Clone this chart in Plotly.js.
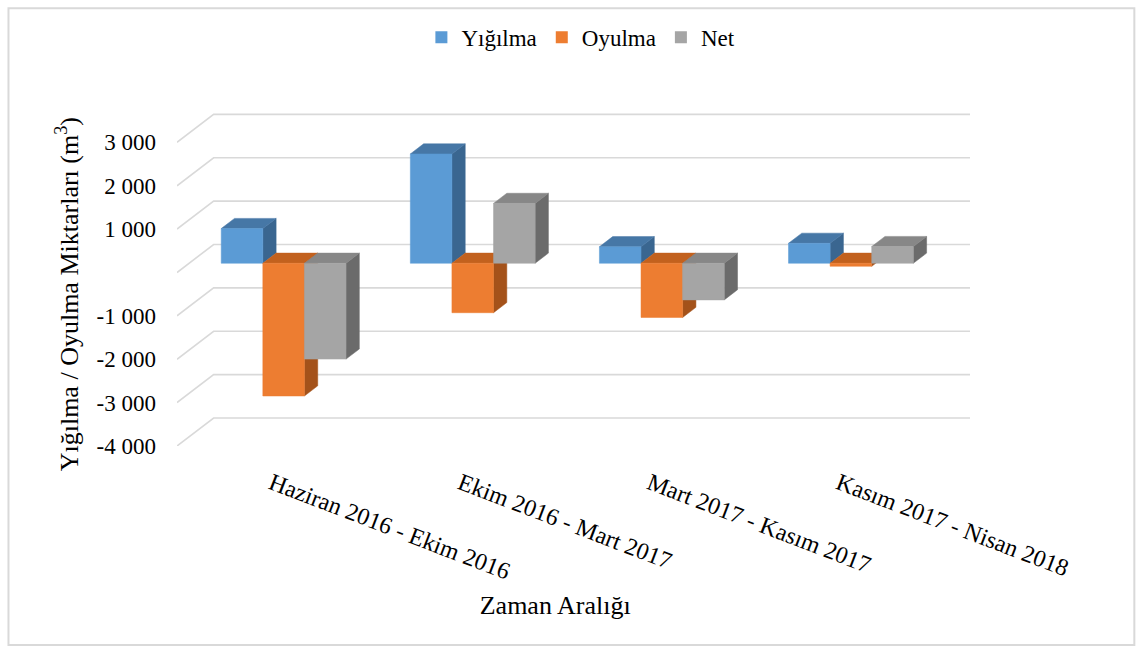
<!DOCTYPE html>
<html>
<head>
<meta charset="utf-8">
<script src="https://cdn.plot.ly/plotly-3.0.1.min.js"></script>
<style>html,body{margin:0;padding:0;background:#fff;}#chart{width:1143px;height:647px;}</style>
</head>
<body>
<div id="chart"></div>
<script>
// ---- data ----
var categories = ['Haziran 2016 - Ekim 2016', 'Ekim 2016 - Mart 2017', 'Mart 2017 - Kasım 2017', 'Kasım 2017 - Nisan 2018'];
var seriesNames = ['Yığılma', 'Oyulma', 'Net'];
var yigilma = [800, 2520, 380, 460];
var oyulma = [-3060, -1140, -1250, -70];
var net = [-2210, 1380, -845, 385];
var yGridVals = [-4000, -3000, -2000, -1000, 0, 1000, 2000, 3000];
var yTickVals = [-4000, -3000, -2000, -1000, 1000, 2000, 3000];
var yTickText = ['-4 000', '-3 000', '-2 000', '-1 000', '1 000', '2 000', '3 000'];

// ---- styling / 3D geometry ----
var FONT = 'Liberation Serif, Times New Roman, serif';
var faceColors = [
  {front: '#5B9BD5', top: '#4677A6', side: '#3A6690'},
  {front: '#ED7D31', top: '#C2611E', side: '#A4521A'},
  {front: '#A5A5A5', top: '#878787', side: '#6B6B6B'}
];
var DX = 0.1937;   // full floor depth, x units
var DY = 645;      // full floor depth, value units
var D0 = 0.33, D1 = 0.693; // bar front / back depth fractions
var BAR_W = 0.22, GROUP_OFF = -0.33;
var X_MIN = -0.5, X_MAX = 3.5;
var Y_MIN = -4000, Y_MAX = 3000, Y_TOP = 3700;

var allSeries = [yigilma, oyulma, net];
var traces = [];

// legend entries
seriesNames.forEach(function (n, s) {
  traces.push({type: 'bar', name: n, x: [null], y: [null], xaxis: 'x', yaxis: 'y',
    marker: {color: faceColors[s].front, line: {width: 0}}, hoverinfo: 'skip'});
});

// back-wall gridlines (with left diagonal)
var gx = [], gy = [];
yGridVals.forEach(function (v) {
  gx.push(X_MIN, X_MIN + DX, X_MAX + DX, null);
  gy.push(v, v + DY, v + DY, null);
});
traces.push({type: 'scatter', mode: 'lines', x: gx, y: gy, xaxis: 'x2', yaxis: 'y2',
  line: {color: '#D9D9D9', width: 1.6}, showlegend: false, hoverinfo: 'skip'});

function poly(xs, ys, color) {
  traces.push({type: 'scatter', mode: 'lines', x: xs.concat([xs[0]]), y: ys.concat([ys[0]]),
    xaxis: 'x2', yaxis: 'y2', fill: 'toself', fillcolor: color,
    line: {width: 0.5, color: color}, showlegend: false, hoverinfo: 'skip'});
}

for (var i = 0; i < categories.length; i++) {
  for (var s = 0; s < allSeries.length; s++) {
    var v = allSeries[s][i];
    var xL = i + GROUP_OFF + s * BAR_W, xR = xL + BAR_W;
    var lo = Math.min(v, 0), hi = Math.max(v, 0);
    var ox0 = D0 * DX, oy0 = D0 * DY, ox1 = D1 * DX, oy1 = D1 * DY;
    var c = faceColors[s];
    poly([xR + ox0, xR + ox1, xR + ox1, xR + ox0], [lo + oy0, lo + oy1, hi + oy1, hi + oy0], c.side);
    poly([xL + ox0, xR + ox0, xR + ox1, xL + ox1], [hi + oy0, hi + oy0, hi + oy1, hi + oy1], c.top);
    poly([xL + ox0, xR + ox0, xR + ox0, xL + ox0], [lo + oy0, lo + oy0, hi + oy0, hi + oy0], c.front);
  }
}

var PW = 793.8, PH = 334.2, L = 176.7, T = 111.8;
function px2x(p) { return (p - L) / PW; }
function py2y(p) { return (T + PH - p) / PH; }

var layout = {
  width: 1143, height: 647,
  margin: {l: L, r: 1143 - L - PW, t: T, b: 647 - T - PH, pad: 0},
  paper_bgcolor: '#ffffff', plot_bgcolor: 'rgba(0,0,0,0)',
  font: {family: FONT, color: '#000000', size: 23},
  showlegend: true,
  legend: {orientation: 'h', x: px2x(581), xanchor: 'center', y: py2y(37), yanchor: 'middle',
    font: {family: FONT, size: 23, color: '#000'}, bgcolor: 'rgba(0,0,0,0)'},
  xaxis: {domain: [0, (X_MAX - X_MIN) / (X_MAX + DX - X_MIN)], range: [X_MIN, X_MAX], anchor: 'y',
    tickmode: 'array', tickvals: [0, 1, 2, 3], ticktext: categories, tickangle: 21,
    ticks: '', showgrid: false, zeroline: false, showline: false, ticklabelstandoff: 18,
    tickfont: {family: FONT, size: 24, color: '#000'},
    title: {text: 'Zaman Aralığı', font: {family: FONT, size: 26, color: '#000'}, standoff: 12}},
  xaxis2: {domain: [0, 1], range: [X_MIN, X_MAX + DX], anchor: 'y2', visible: false,
    showgrid: false, zeroline: false},
  yaxis: {domain: [0, (Y_MAX - Y_MIN) / (Y_TOP - Y_MIN)], range: [Y_MIN, Y_MAX], anchor: 'x',
    tickmode: 'array', tickvals: yTickVals, ticktext: yTickText,
    ticks: '', showgrid: false, zeroline: false, showline: false, ticklabelstandoff: 20,
    tickfont: {family: FONT, size: 23, color: '#000'},
    title: {text: 'Yığılma / Oyulma Miktarları (m<sup>3</sup>)', font: {family: FONT, size: 26, color: '#000'}, standoff: 10}},
  yaxis2: {domain: [0, 1], range: [Y_MIN, Y_TOP], anchor: 'x2', visible: false,
    showgrid: false, zeroline: false},
  shapes: [{type: 'rect', xref: 'paper', yref: 'paper', x0: px2x(8), x1: px2x(1135), y0: py2y(645), y1: py2y(8),
    line: {color: '#D9D9D9', width: 2}, fillcolor: 'rgba(0,0,0,0)', layer: 'below'}],
  hovermode: false
};

Plotly.newPlot('chart', traces, layout, {staticPlot: true, displayModeBar: false});
</script>
</body>
</html>
